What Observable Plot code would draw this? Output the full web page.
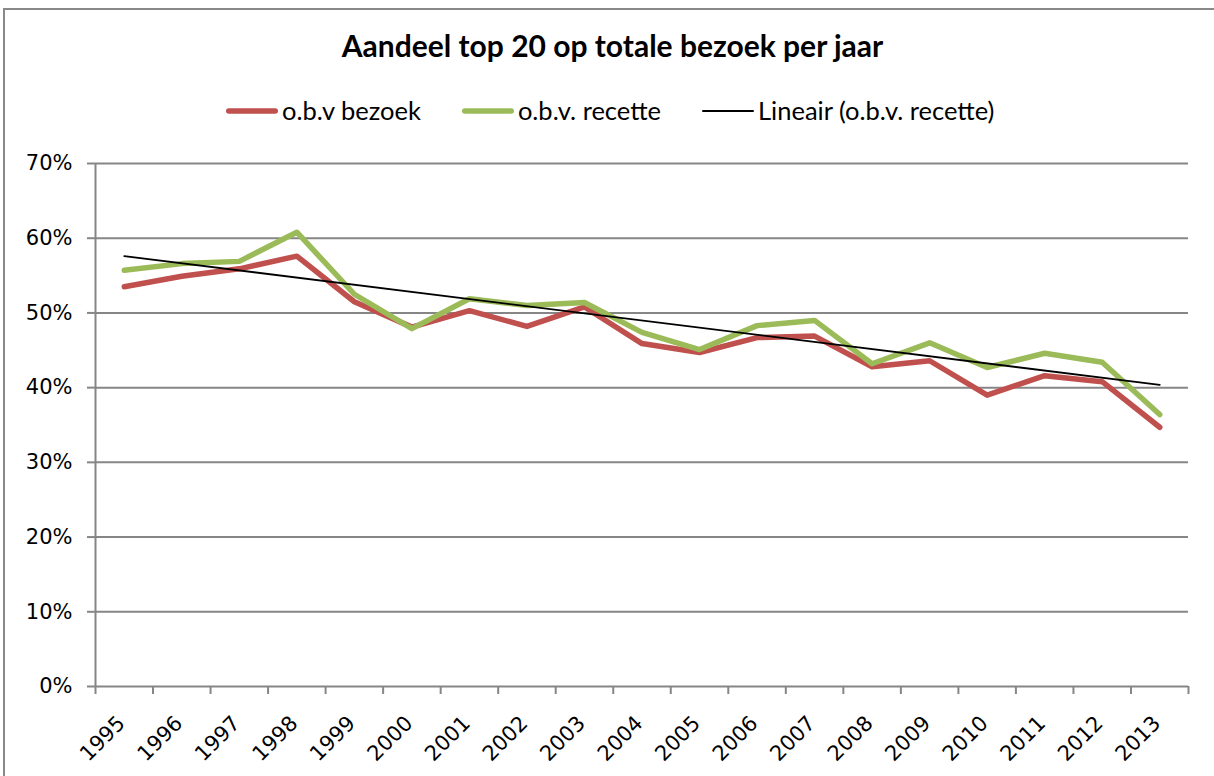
<!DOCTYPE html>
<html><head><meta charset="utf-8">
<script src="https://cdn.jsdelivr.net/npm/d3@7"></script>
<script src="https://cdn.jsdelivr.net/npm/@observablehq/plot@0.6"></script>
<style>
body{margin:0;background:#fff;font-family:Lato,sans-serif;color:#000}
#wrap{position:relative;width:1214px;height:776px;overflow:hidden;background:#fff}
#border{position:absolute;left:3px;top:8px;width:1300px;height:900px;border:2px solid #898989;box-sizing:border-box}
#title{position:absolute;top:27px;left:0;width:1225px;text-align:center;font-weight:bold;font-size:30px;line-height:36px}
#legend{position:absolute;top:95px;left:226px;display:flex;align-items:center;font-size:25.5px;line-height:31px;white-space:nowrap}
#legend .it{display:flex;align-items:center;margin-right:41px}
#legend svg{margin-right:4px}
#chart{position:absolute;left:0;top:140px}
</style></head>
<body><div id="wrap"><div id="border"></div>
<div id="title">Aandeel top 20 op totale bezoek per jaar</div>
<div id="legend"></div>
<div id="chart"></div></div>
<script>
const years = [1995,1996,1997,1998,1999,2000,2001,2002,2003,2004,2005,2006,2007,2008,2009,2010,2011,2012,2013];
const bezoek = [53.5,54.9,55.9,57.6,51.5,48.1,50.3,48.2,50.8,45.9,44.7,46.7,46.9,42.8,43.6,39.0,41.6,40.8,34.7];
const recette = [55.7,56.6,56.9,60.8,52.5,47.9,51.9,51.0,51.4,47.4,45.1,48.3,49.0,43.2,46.0,42.7,44.6,43.4,36.4];
const yTicks = [0,10,20,30,40,50,60,70];
const seriesNames = ["o.b.v bezoek","o.b.v. recette","Lineair (o.b.v. recette)"];
const colors = ["#C0504D","#9BBB59","#000000"];
const widths = [5.5,5.5,2];

const leg = document.getElementById("legend");
seriesNames.forEach((n,i)=>{
  const it = document.createElement("div"); it.className="it";
  it.innerHTML = `<svg width="52" height="10"><line x1="${widths[i]/2}" x2="${52-widths[i]/2}" y1="5" y2="5" stroke="${colors[i]}" stroke-width="${widths[i]}" stroke-linecap="round"/></svg><span>${n}</span>`;
  leg.appendChild(it);
});

const dBez = years.map((y,i)=>({year:y, v:bezoek[i]}));
const dRec = years.map((y,i)=>({year:y, v:recette[i]}));
const bounds = [...years.map(y=>y-0.5), years[years.length-1]+0.5];
const tickFont = "'DejaVu Sans', sans-serif";

const chart = Plot.plot({
  width:1214, height:636, marginLeft:95, marginRight:26, marginTop:23, marginBottom:90,
  x:{type:"linear", domain:[bounds[0], bounds[bounds.length-1]]},
  y:{domain:[0,70]},
  style:{fontFamily:tickFont, fontSize:"21px", color:"#000", background:"transparent"},
  marks:[
    Plot.gridY(yTicks, {stroke:"#868686", strokeOpacity:1, strokeWidth:2}),
    Plot.ruleX([bounds[0]], {stroke:"#868686", strokeWidth:2}),
    Plot.axisY(yTicks, {tickSize:8, tickPadding:15, tickFormat:d=>d+"%", stroke:"#868686", strokeWidth:2, label:null, fontSize:21}),
    Plot.axisX(bounds, {tickSize:8, tickFormat:()=>"", stroke:"#868686", strokeWidth:2, label:null}),
    Plot.text(years, {x:d=>d, text:d=>String(d), frameAnchor:"bottom", rotate:-45, textAnchor:"end", dx:2, dy:38, fontSize:21, fill:"#000"}),
    Plot.lineY(dBez, {x:"year", y:"v", stroke:colors[0], strokeWidth:5.5}),
    Plot.lineY(dRec, {x:"year", y:"v", stroke:colors[1], strokeWidth:5.5}),
    Plot.linearRegressionY(dRec, {x:"year", y:"v", stroke:colors[2], strokeWidth:1.8, ci:0})
  ]
});
document.getElementById("chart").appendChild(chart);
</script></body></html>
